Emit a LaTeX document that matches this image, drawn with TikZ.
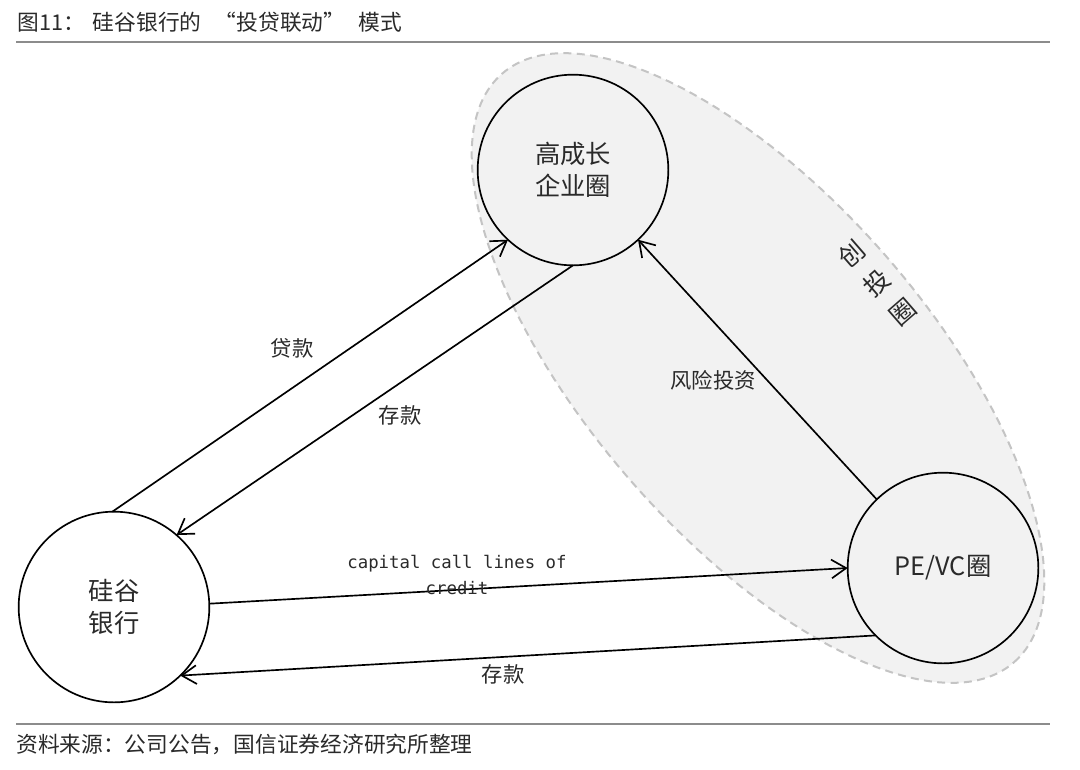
\documentclass[tikz,border=0pt]{standalone}
\usepackage{fontspec}
\newfontfamily\cjk{Noto Sans CJK SC}
\newfontfamily\mono{DejaVu Sans Mono}
\usetikzlibrary{arrows.meta}
\definecolor{txt}{HTML}{2A2A2A}
\definecolor{fillg}{HTML}{F2F2F2}
\definecolor{dashg}{HTML}{C4C4C4}
\definecolor{rulec}{HTML}{8C8C8C}
\begin{document}
\begin{tikzpicture}[x=0.75pt,y=-0.75pt,
  circ/.style={circle, draw=black, line width=1.25pt, minimum size=143pt, inner sep=0pt, outer sep=0pt, align=center, text=txt, font=\cjk\fontsize{19pt}{24pt}\selectfont},
  conn/.style={line width=1.25pt, -{Straight Barb[length=11pt,width=14pt]}},
  lbl/.style={text=txt, font=\cjk\fontsize{16pt}{20pt}\selectfont, inner sep=0pt},
  rulestyle/.style={draw=rulec, line width=1.2pt},
]
\useasboundingbox (0,0) rectangle (1080,769);
\fill[white] (0,0) rectangle (1080,769);

% title and rules
\node[anchor=west, inner sep=0pt, text=txt, font=\cjk\fontsize{16.3pt}{18pt}\selectfont] (title) at (17,22) {图11：\hspace{6pt}硅谷银行的\hspace{10pt}“投贷联动”\hspace{10pt}模式};
\draw[rulestyle] (16,42) -- (1050,42);
\draw[rulestyle] (16,724) -- (1050,724);
\node[anchor=west, inner sep=0pt, text=txt, font=\cjk\fontsize{16.3pt}{18pt}\selectfont] (src) at (16,744) {资料来源：公司公告，国信证券经济研究所整理};

% venture ellipse
\draw[fill=fillg, draw=dashg, line width=1.5pt, dash pattern=on 6pt off 4pt, rotate around={-49:(758,368)}] (758,368) ellipse [x radius=292.5pt, y radius=127.5pt];

% circles
\node[circ] (tc) at (573,170) {高成长\\企业圈};
\node[circ, fill=white] (lc) at (114,607) {硅谷\\银行};
\node[circ] (pc) at (943,568) {PE/VC圈};

% connectors
\draw[conn] (lc.91) -- (tc.227);
\draw[conn] (tc.270) -- (lc.49);
\draw[conn] (pc.134) -- (tc.313);
\draw[conn] (lc.2) -- (pc.180);
\draw[conn] (pc.225) -- (lc.314);

% labels
\node[lbl] (l1) at (292,348) {贷款};
\node[lbl] (l2) at (400,415) {存款};
\node[lbl] (l3) at (713,380) {风险投资};
\node[lbl, font=\mono\fontsize{13pt}{19.5pt}\selectfont, align=center] (l4) at (457,575) {capital call lines of\\credit};
\node[lbl] (l5) at (503,674) {存款};
\node[lbl, align=center, rotate=41, font=\cjk\fontsize{19pt}{29pt}\selectfont] (l6) at (877,283) {创\\投\\圈};
\end{tikzpicture}
\end{document}
